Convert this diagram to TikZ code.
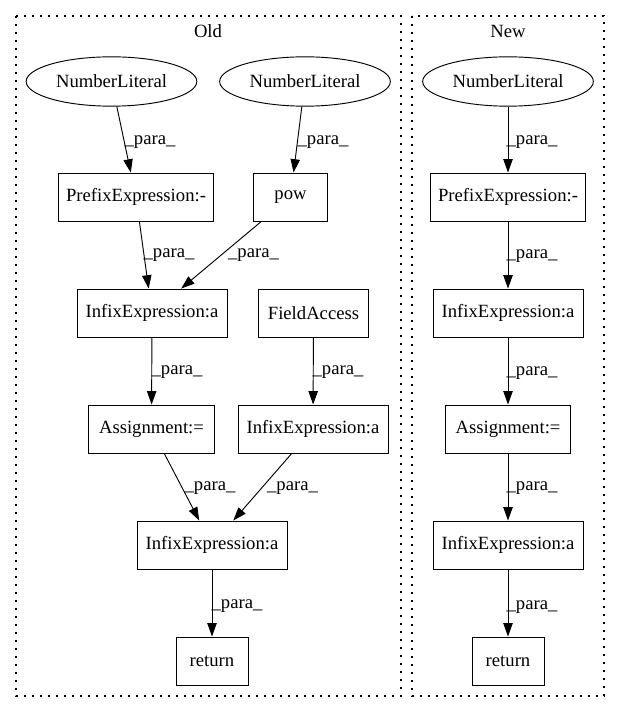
\documentclass[tikz,border=0pt]{standalone}
\usepackage{fontspec}
\setmainfont{Liberation Serif}
\usetikzlibrary{shapes.geometric,arrows.meta}
\tikzset{
  base/.style={draw, line width=0.7pt, inner sep=0pt, font=\fontsize{14pt}{16pt}\selectfont},
  box/.style={base, rectangle, minimum height=36pt},
  ell/.style={base, ellipse, minimum width=128pt, minimum height=37pt},
  edge/.style={line width=0.7pt, -{Triangle[length=10pt,width=7pt]}},
  lbl/.style={inner sep=0pt, font=\fontsize{14pt}{16pt}\selectfont},
  cluster/.style={line width=0.8pt, dash pattern=on 1.2pt off 4.8pt},
  ttl/.style={inner sep=0pt, font=\fontsize{14pt}{16pt}\selectfont}
}
\begin{document}
\begin{tikzpicture}[x=0.75pt,y=-0.75pt]
\useasboundingbox (0,0) rectangle (620,712);
% clusters
\draw[cluster] (16,16) rectangle (401,696);
\draw[cluster] (412,16) rectangle (604,696);
\node[ttl] (told) at (208,31) {Old};
\node[ttl] (tnew) at (508,31) {New};
% Old nodes
\node[ell] (nl1) at (111.5,81.5) {NumberLiteral};
\node[ell] (nl2) at (305,81.5) {NumberLiteral};
\node[box, minimum width=116pt] (pre1) at (136,197) {PrefixExpression:-};
\node[box, minimum width=55pt] (pow) at (290.5,197) {pow};
\node[box, minimum width=112.5pt] (inf1) at (152,313) {InfixExpression:a};
\node[box, minimum width=83pt] (fa) at (313.5,313) {FieldAccess};
\node[box, minimum width=94pt] (as1) at (151.5,429) {Assignment:=};
\node[box, minimum width=112.5pt] (inf2) at (313,429) {InfixExpression:a};
\node[box, minimum width=112.5pt] (inf3) at (212,545) {InfixExpression:a};
\node[box, minimum width=54pt] (ret1) at (212,661) {return};
% New nodes
\node[ell] (nl3) at (508,81.5) {NumberLiteral};
\node[box, minimum width=116pt] (pre2) at (508,197) {PrefixExpression:-};
\node[box, minimum width=112.5pt] (inf4) at (508,313) {InfixExpression:a};
\node[box, minimum width=94pt] (as2) at (508,429) {Assignment:=};
\node[box, minimum width=112.5pt] (inf5) at (508,545) {InfixExpression:a};
\node[box, minimum width=54pt] (ret2) at (508,661) {return};
% Old edges
\draw[edge] (nl1) -- (pre1);
\draw[edge] (nl2) -- (pow);
\draw[edge] (pre1) -- (inf1);
\draw[edge] (pow) -- (inf1);
\draw[edge] (inf1) -- (as1);
\draw[edge] (fa) -- (inf2);
\draw[edge] (as1) -- (inf3);
\draw[edge] (inf2) -- (inf3);
\draw[edge] (inf3) -- (ret1);
% New edges
\draw[edge] (nl3) -- (pre2);
\draw[edge] (pre2) -- (inf4);
\draw[edge] (inf4) -- (as2);
\draw[edge] (as2) -- (inf5);
\draw[edge] (inf5) -- (ret2);
% labels
\node[lbl] (l1) at (150,142) {\_para\_};
\node[lbl] (l2) at (323,142) {\_para\_};
\node[lbl] (l3) at (169,255) {\_para\_};
\node[lbl] (l4) at (253.5,255) {\_para\_};
\node[lbl] (l5) at (177,372) {\_para\_};
\node[lbl] (l6) at (338,372) {\_para\_};
\node[lbl] (l7) at (210,488) {\_para\_};
\node[lbl] (l8) at (292.5,488) {\_para\_};
\node[lbl] (l9) at (237,606) {\_para\_};
\node[lbl] (l10) at (532,142) {\_para\_};
\node[lbl] (l11) at (532,256) {\_para\_};
\node[lbl] (l12) at (532,373) {\_para\_};
\node[lbl] (l13) at (532,488) {\_para\_};
\node[lbl] (l14) at (532,607) {\_para\_};
\end{tikzpicture}
\end{document}
